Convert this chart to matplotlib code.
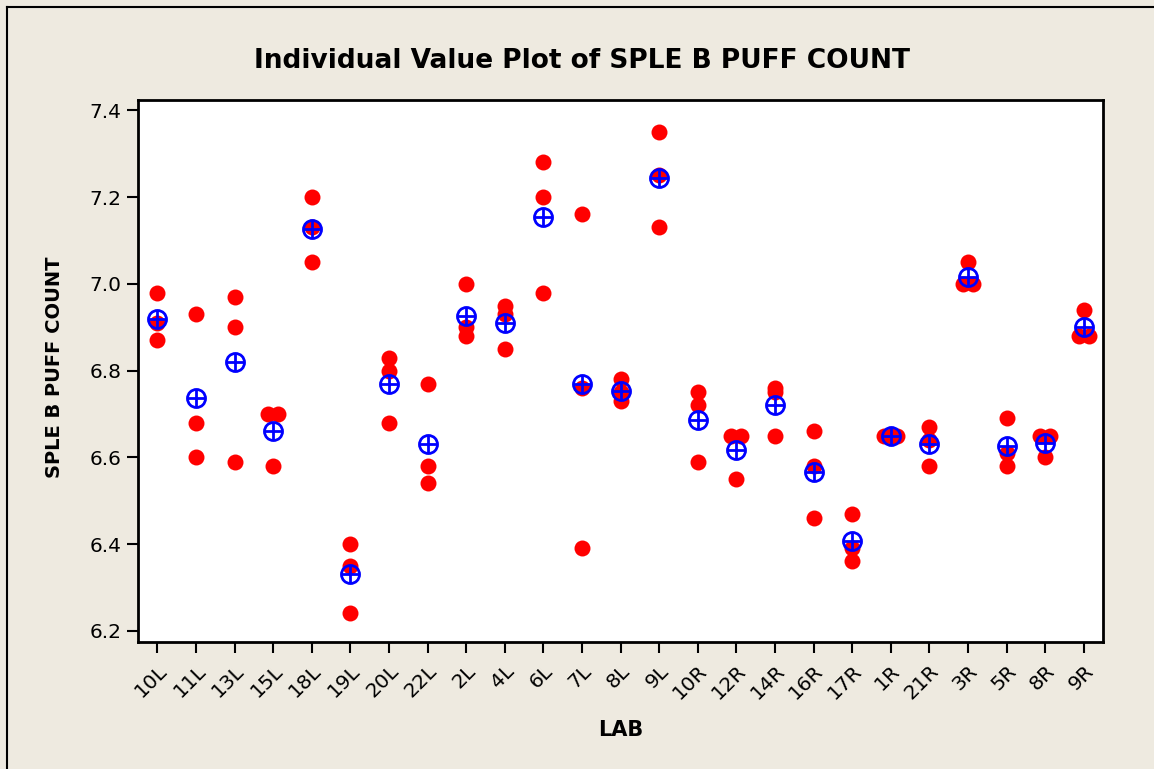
import matplotlib
matplotlib.use("Agg")
import matplotlib.pyplot as plt
from matplotlib.lines import Line2D
import numpy as np

# Laboratories in the order Minitab sorts them
labs = ['10L', '11L', '13L', '15L', '18L', '19L', '20L', '22L', '2L', '4L',
        '6L', '7L', '8L', '9L', '10R', '12R', '14R', '16R', '17R', '1R',
        '21R', '3R', '5R', '8R', '9R']

# three puff count results per lab
run_1 = [6.98, 6.93, 6.97, 6.70, 7.20, 6.40, 6.83, 6.77, 7.00, 6.95,
         7.28, 7.16, 6.78, 7.35, 6.75, 6.65, 6.76, 6.66, 6.47, 6.65,
         6.67, 7.05, 6.69, 6.65, 6.94]
run_2 = [6.91, 6.68, 6.90, 6.70, 7.13, 6.35, 6.80, 6.58, 6.90, 6.93,
         7.20, 6.76, 6.75, 7.25, 6.72, 6.65, 6.75, 6.58, 6.39, 6.65,
         6.64, 7.00, 6.61, 6.65, 6.88]
run_3 = [6.87, 6.60, 6.59, 6.58, 7.05, 6.24, 6.68, 6.54, 6.88, 6.85,
         6.98, 6.39, 6.73, 7.13, 6.59, 6.55, 6.65, 6.46, 6.36, 6.65,
         6.58, 7.00, 6.58, 6.60, 6.88]

y_ticks = [6.2, 6.4, 6.6, 6.8, 7.0, 7.2, 7.4]

BG = '#EEEAE0'

fig = plt.figure(figsize=(11.54, 7.69), dpi=100, facecolor=BG)
ax = fig.add_axes([138 / 1154, 1 - 642 / 769, (1103 - 138) / 1154, (642 - 100) / 769])
ax.set_facecolor('white')

values = np.array([run_1, run_2, run_3]).T
means = values.mean(axis=1)

# side by side placement for identical values (like Minitab's dodge)
spread = {1: 0.0, 2: 0.26, 3: 0.34}
xs, ys = [], []
for i, row in enumerate(values):
    uniq, counts = np.unique(row, return_counts=True)
    for v, n in zip(uniq, counts):
        offs = np.linspace(-spread[n] / 2, spread[n] / 2, n) if n > 1 else [0.0]
        for o in offs:
            xs.append(i + o)
            ys.append(v)

ax.plot(xs, ys, 'o', color='#FF0000', ms=11.5, mew=0, zorder=2)
pos = np.arange(len(labs))
ax.plot(pos, means, 'o', mfc='none', mec='#0000FF', ms=13, mew=2, zorder=3)
ax.plot(pos, means, '+', color='#0000FF', ms=13, mew=2, zorder=3)

ax.set_xlim(-0.5, 24.5)
ax.set_ylim(6.174, 7.424)
ax.set_yticks(y_ticks)
ax.set_yticklabels([f"{t:.1f}" for t in y_ticks])
ax.set_xticks(pos)
ax.set_xticklabels(labs, rotation=45, ha='right', rotation_mode='anchor')

for s in ax.spines.values():
    s.set_linewidth(2)
ax.tick_params(direction='out', length=8, width=1.5, labelsize=14.5, pad=4)
ax.tick_params(axis='x', pad=6)

fig.text(582 / 1154, 1 - 61 / 769, 'Individual Value Plot of SPLE B PUFF COUNT',
         ha='center', va='center', fontsize=19, fontweight='bold')
fig.text(55 / 1154, 1 - 367 / 769, 'SPLE B PUFF COUNT', rotation=90,
         ha='center', va='center', fontsize=14, fontweight='bold')
fig.text(621 / 1154, 1 - 730 / 769, 'LAB', ha='center', va='center',
         fontsize=15, fontweight='bold')

# outer frame (only left and top are visible in the crop)
fig.add_artist(Line2D([7 / 1154, 7 / 1154], [0, 1 - 7 / 769], color='black', lw=1.5))
fig.add_artist(Line2D([7 / 1154, 1], [1 - 7 / 769, 1 - 7 / 769], color='black', lw=1.5))

fig.savefig('out.png', dpi=100, facecolor=BG)
